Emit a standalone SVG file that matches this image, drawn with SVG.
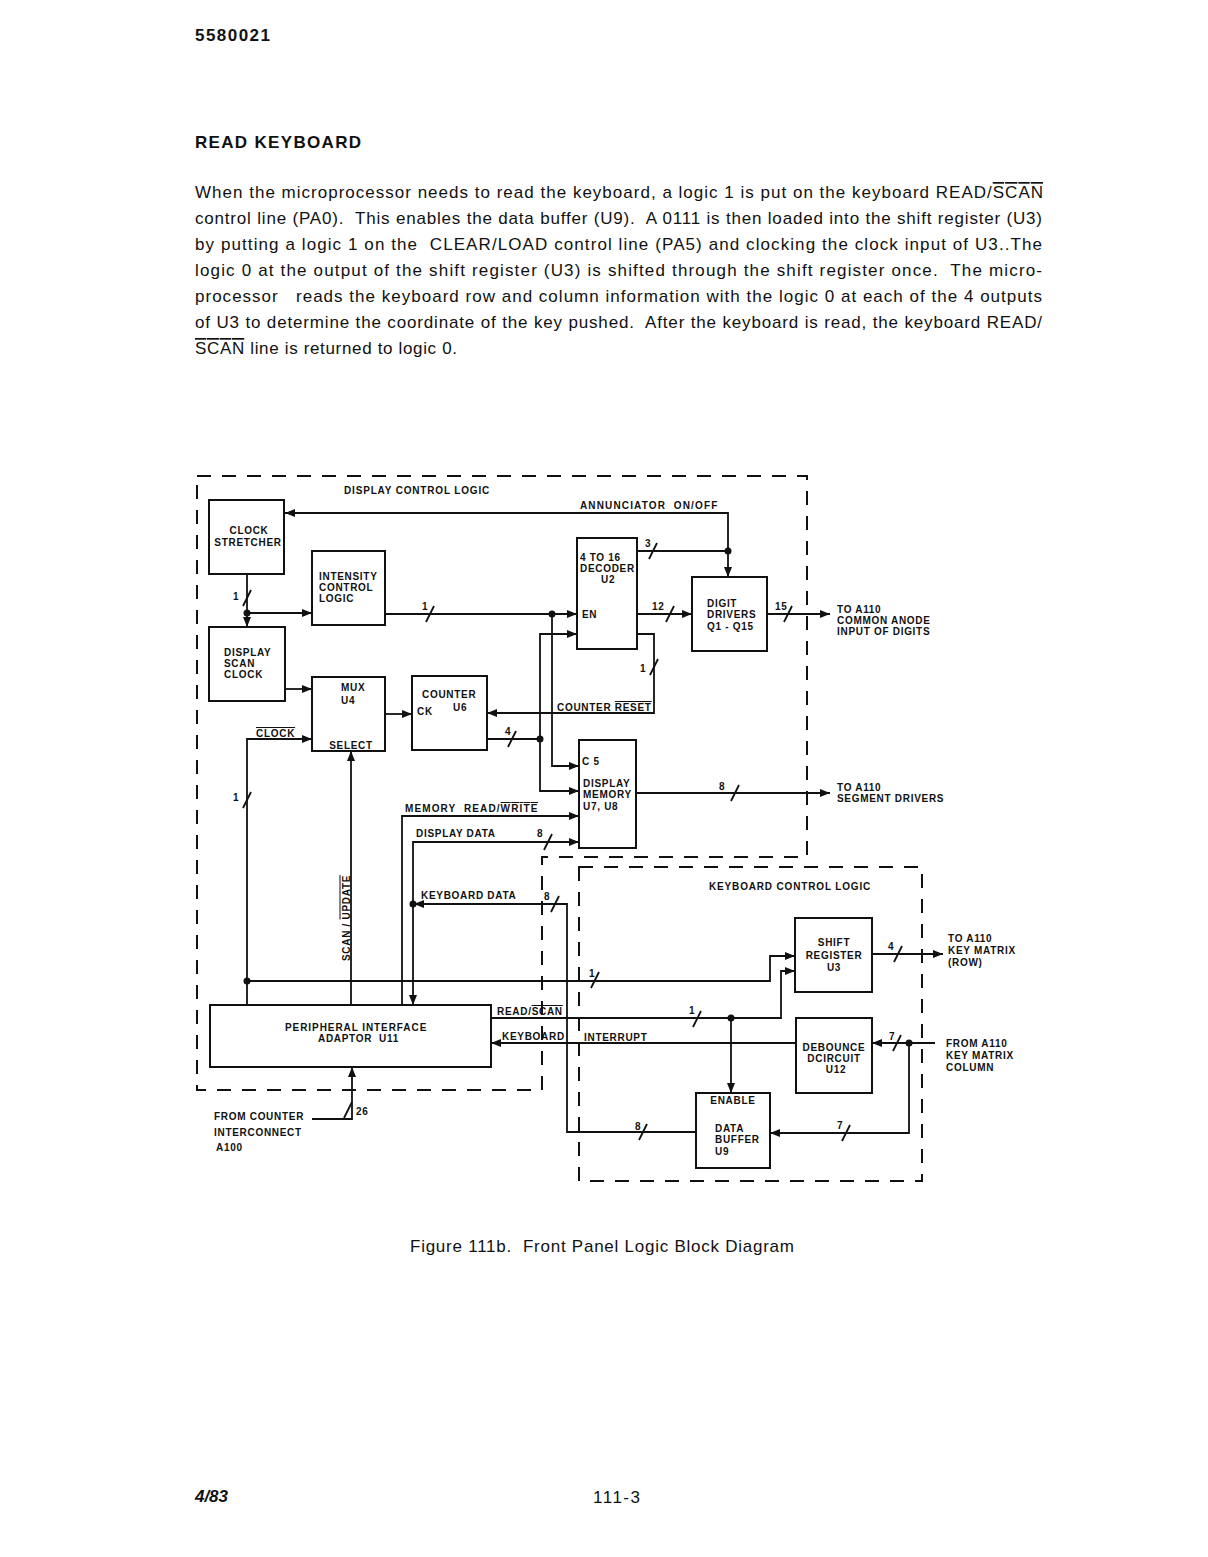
<svg xmlns="http://www.w3.org/2000/svg" width="1208" height="1557" viewBox="0 0 1208 1557">
<defs>
<marker id="a" viewBox="0 0 10 8" refX="10" refY="4" markerWidth="10" markerHeight="8" markerUnits="userSpaceOnUse" orient="auto"><path d="M0,0 L10,4 L0,8 Z" fill="#111"/></marker>
<style>
.t{font-family:"Liberation Sans",Arial,sans-serif;font-weight:bold;font-size:10px;letter-spacing:0.7px;fill:#111}
.m{text-anchor:middle}
.p{font-family:"Liberation Sans",Arial,sans-serif;font-size:17px;fill:#111}
.h{font-family:"Liberation Sans",Arial,sans-serif;font-weight:bold;font-size:17px;fill:#111}
.box{fill:none;stroke:#111;stroke-width:2}
.w{fill:none;stroke:#111;stroke-width:1.8}
.arr{fill:none;stroke:#111;stroke-width:1.8;marker-end:url(#a)}
.dash{fill:none;stroke:#111;stroke-width:2;stroke-dasharray:14 11}
.ol{text-decoration:overline}
.dot{fill:#111}
</style>
</defs>
<rect width="1208" height="1557" fill="#fff"/>

<!-- page text -->
<text class="h" x="195" y="41" textLength="75">5580021</text>
<text class="h" x="195" y="148" textLength="166">READ KEYBOARD</text>
<text class="p" x="195" y="198" textLength="848">When the microprocessor needs to read the keyboard, a logic 1 is put on the keyboard READ/<tspan class="ol">SCAN</tspan></text>
<text class="p" x="195" y="224" textLength="847" xml:space="preserve">control line (PA0).  This enables the data buffer (U9).  A 0111 is then loaded into the shift register (U3)</text>
<text class="p" x="195" y="250" textLength="847" xml:space="preserve">by putting a logic 1 on the  CLEAR/LOAD control line (PA5) and clocking the clock input of U3..The</text>
<text class="p" x="195" y="276" textLength="847" xml:space="preserve">logic 0 at the output of the shift register (U3) is shifted through the shift register once.  The micro-</text>
<text class="p" x="195" y="302" textLength="847" xml:space="preserve">processor   reads the keyboard row and column information with the logic 0 at each of the 4 outputs</text>
<text class="p" x="195" y="328" textLength="847" xml:space="preserve">of U3 to determine the coordinate of the key pushed.  After the keyboard is read, the keyboard READ/</text>
<text class="p" x="195" y="354" textLength="262"><tspan class="ol">SCAN</tspan> line is returned to logic 0.</text>
<text class="p" x="410" y="1252" textLength="384" xml:space="preserve">Figure 111b.  Front Panel Logic Block Diagram</text>
<text class="h" x="195" y="1502" font-size="13" font-style="italic" textLength="33">4/83</text>
<text class="p" x="593" y="1503" font-size="16" textLength="47">111-3</text>

<!-- region boundaries -->
<g id="display-control-logic">
<path class="dash" d="M197 476 H807 V857 H542 V1090 H197 Z"/>
<text class="t" x="344" y="494" textLength="146">DISPLAY CONTROL LOGIC</text>
</g>
<g id="keyboard-control-logic">
<rect class="dash" x="579" y="867" width="343" height="314"/>
<text class="t" x="709" y="890" textLength="162">KEYBOARD CONTROL LOGIC</text>
</g>

<!-- nodes -->
<g id="clock-stretcher">
<rect class="box" x="209" y="500" width="75" height="74"/>
<text class="t m" x="249" y="534">CLOCK</text>
<text class="t m" x="248" y="546">STRETCHER</text>
</g>
<g id="intensity-control">
<rect class="box" x="312" y="551" width="73" height="74"/>
<text class="t" x="319" y="580">INTENSITY</text>
<text class="t" x="319" y="591">CONTROL</text>
<text class="t" x="319" y="602">LOGIC</text>
</g>
<g id="display-scan-clock">
<rect class="box" x="209" y="627" width="76" height="74"/>
<text class="t" x="224" y="656">DISPLAY</text>
<text class="t" x="224" y="667">SCAN</text>
<text class="t" x="224" y="678">CLOCK</text>
</g>
<g id="mux-u4">
<rect class="box" x="312" y="677" width="73" height="74"/>
<text class="t" x="341" y="691">MUX</text>
<text class="t" x="341" y="704">U4</text>
<text class="t m" x="351" y="749">SELECT</text>
</g>
<g id="counter-u6">
<rect class="box" x="412" y="676" width="75" height="74"/>
<text class="t" x="422" y="698">COUNTER</text>
<text class="t" x="417" y="715">CK</text>
<text class="t" x="453" y="711">U6</text>
</g>
<g id="decoder-u2">
<rect class="box" x="577" y="538" width="60" height="111"/>
<text class="t" x="580" y="561" letter-spacing="0.3">4 TO 16</text>
<text class="t" x="580" y="572" letter-spacing="0.3">DECODER</text>
<text class="t" x="601" y="583">U2</text>
<text class="t" x="582" y="618">EN</text>
</g>
<g id="digit-drivers">
<rect class="box" x="692" y="577" width="75" height="74"/>
<text class="t" x="707" y="607">DIGIT</text>
<text class="t" x="707" y="618">DRIVERS</text>
<text class="t" x="707" y="630">Q1 - Q15</text>
</g>
<g id="display-memory">
<rect class="box" x="579" y="740" width="57" height="108"/>
<text class="t" x="582" y="765">C 5</text>
<text class="t" x="583" y="787" letter-spacing="0.4">DISPLAY</text>
<text class="t" x="583" y="798" letter-spacing="0.4">MEMORY</text>
<text class="t" x="583" y="810" letter-spacing="0.4">U7, U8</text>
</g>
<g id="pia-u11">
<rect class="box" x="210" y="1005" width="281" height="62"/>
<text class="t" x="285" y="1031" textLength="142">PERIPHERAL INTERFACE</text>
<text class="t" x="318" y="1042" textLength="81" xml:space="preserve">ADAPTOR  U11</text>
</g>
<g id="shift-register">
<rect class="box" x="795" y="918" width="77" height="74"/>
<text class="t m" x="834" y="946">SHIFT</text>
<text class="t m" x="834" y="959">REGISTER</text>
<text class="t m" x="834" y="971">U3</text>
</g>
<g id="debounce">
<rect class="box" x="796" y="1018" width="76" height="75"/>
<text class="t m" x="834" y="1051">DEBOUNCE</text>
<text class="t m" x="834" y="1062">DCIRCUIT</text>
<text class="t m" x="836" y="1073">U12</text>
</g>
<g id="data-buffer">
<rect class="box" x="696" y="1093" width="74" height="75"/>
<text class="t m" x="733" y="1104">ENABLE</text>
<text class="t" x="715" y="1132">DATA</text>
<text class="t" x="715" y="1143">BUFFER</text>
<text class="t" x="715" y="1155">U9</text>
</g>

<!-- connectors -->
<g id="connectors">
<path class="arr" d="M728 551 V513 H285"/>
<path class="arr" d="M728 551 V577"/>
<path class="w" d="M637 551 H728"/>
<path class="arr" d="M637 614 H692"/>
<path class="arr" d="M767 614 H830"/>
<path class="arr" d="M247 574 V627"/>
<path class="arr" d="M247 613 H312"/>
<path class="arr" d="M385 614 H577"/>
<path class="arr" d="M552 614 V766 H579"/>
<path class="arr" d="M540 739 V634 H577"/>
<path class="arr" d="M540 739 V791 H579"/>
<path class="w" d="M487 739 H540"/>
<path class="arr" d="M637 634 H654 V713 H487"/>
<path class="arr" d="M285 689 H312"/>
<path class="arr" d="M247 1005 V739 H312"/>
<path class="arr" d="M385 714 H412"/>
<path class="arr" d="M351 1005 V751"/>
<path class="arr" d="M247 981 H770 V956 H795"/>
<path class="arr" d="M402 1005 V816 H579"/>
<path class="arr" d="M413 904 V842 H579"/>
<path class="arr" d="M413 904 V1005"/>
<path class="arr" d="M696 1132 H567 V904 H414"/>
<path class="arr" d="M491 1018 H781 V971 H795"/>
<path class="arr" d="M731 1018 V1093"/>
<path class="arr" d="M796 1043 H491"/>
<path class="arr" d="M935 1043 H872"/>
<path class="arr" d="M909 1043 V1133 H770"/>
<path class="arr" d="M872 954 H943"/>
<path class="arr" d="M312 1119 H352 V1067"/>
<path class="arr" d="M636 793 H830"/>
<!-- junction dots -->
<circle class="dot" cx="728" cy="551" r="3.5"/>
<circle class="dot" cx="247" cy="613" r="3.5"/>
<circle class="dot" cx="552" cy="614" r="3.5"/>
<circle class="dot" cx="540" cy="739" r="3.5"/>
<circle class="dot" cx="247" cy="981" r="3.5"/>
<circle class="dot" cx="413" cy="904" r="3.5"/>
<circle class="dot" cx="731" cy="1018" r="3.5"/>
<circle class="dot" cx="909" cy="1043" r="3.5"/>
<!-- bus slashes -->
<path class="w" d="M243 606 L251 590 M426 622 L434 606 M649 559 L657 543 M666 622 L674 606 M784 622 L792 606 M650 675 L658 659 M508 747 L516 731 M243 808 L251 792 M731 801 L739 785 M544 850 L552 834 M551 912 L559 896 M591 988 L599 972 M693 1027 L701 1011 M894 962 L902 946 M893 1051 L901 1035 M842 1141 L850 1125 M639 1140 L647 1124 M344 1118 L352 1102"/>
<!-- labels -->
<text class="t" x="233" y="600">1</text>
<text class="t" x="422" y="610">1</text>
<text class="t" x="645" y="547">3</text>
<text class="t" x="652" y="610">12</text>
<text class="t" x="775" y="610">15</text>
<text class="t" x="640" y="672">1</text>
<text class="t" x="505" y="735">4</text>
<text class="t" x="233" y="801">1</text>
<text class="t" x="719" y="790">8</text>
<text class="t" x="537" y="837">8</text>
<text class="t" x="544" y="900">8</text>
<text class="t" x="589" y="977">1</text>
<text class="t" x="689" y="1014">1</text>
<text class="t" x="888" y="950">4</text>
<text class="t" x="889" y="1040">7</text>
<text class="t" x="837" y="1129">7</text>
<text class="t" x="635" y="1130">8</text>
<text class="t" x="356" y="1115">26</text>
<text class="t" x="580" y="509" textLength="138" xml:space="preserve">ANNUNCIATOR  ON/OFF</text>
<text class="t" x="557" y="711">COUNTER <tspan class="ol">RESET</tspan></text>
<text class="t" x="256" y="737"><tspan class="ol">CLOCK</tspan></text>
<text class="t" x="405" y="812" textLength="133" xml:space="preserve">MEMORY  READ/<tspan class="ol">WRITE</tspan></text>
<text class="t" x="416" y="837">DISPLAY DATA</text>
<text class="t" x="421" y="899">KEYBOARD DATA</text>
<text class="t" x="497" y="1015">READ/<tspan class="ol">SCAN</tspan></text>
<text class="t" x="502" y="1040">KEYBOARD</text>
<text class="t" x="584" y="1041">INTERRUPT</text>
<text class="t m" transform="translate(349.5 918) rotate(-90)">SCAN / <tspan class="ol">UPDATE</tspan></text>
<text class="t" x="837" y="613">TO A110</text>
<text class="t" x="837" y="624">COMMON ANODE</text>
<text class="t" x="837" y="635">INPUT OF DIGITS</text>
<text class="t" x="837" y="791">TO A110</text>
<text class="t" x="837" y="802">SEGMENT DRIVERS</text>
<text class="t" x="948" y="942">TO A110</text>
<text class="t" x="948" y="954">KEY MATRIX</text>
<text class="t" x="948" y="966">(ROW)</text>
<text class="t" x="946" y="1047">FROM A110</text>
<text class="t" x="946" y="1059">KEY MATRIX</text>
<text class="t" x="946" y="1071">COLUMN</text>
<text class="t" x="214" y="1120">FROM COUNTER</text>
<text class="t" x="214" y="1136">INTERCONNECT</text>
<text class="t" x="216" y="1151">A100</text>
</g>
</svg>
